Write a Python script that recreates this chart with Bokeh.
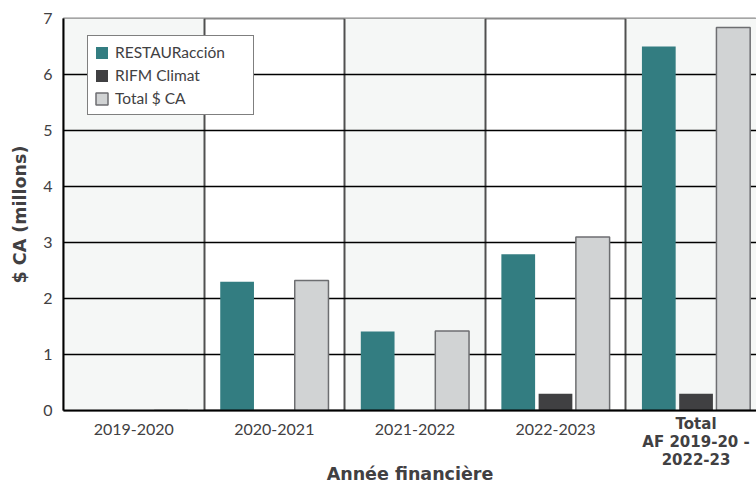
from bokeh.plotting import figure
from bokeh.models import FixedTicker, Range1d, Legend, LegendItem, LinearAxis
from bokeh.embed import file_html
from bokeh.resources import INLINE

categories = ["2019-2020", "2020-2021", "2021-2022", "2022-2023", "Total\nAF 2019-20 -\n2022-23"]
restau = [0, 2.3, 1.41, 2.79, 6.5]
rifm = [0, 0, 0, 0.3, 0.3]
total = [0, 2.32, 1.42, 3.1, 6.84]
series_names = ["RESTAURacción", "RIFM Climat", "Total $ CA"]
y_ticks = [0, 1, 2, 3, 4, 5, 6, 7]

FONT = "Lato"
BOLD_FONT = "DejaVu Sans"
TXT = "#414042"
TEAL = "#337d81"
DARK = "#404042"
GREY = "#d1d3d4"
GREY_LINE = "#6d6e71"
BAND = "#f5f7f6"

n = len(categories)
xs = list(range(n))

p = figure(width=756, height=487, x_range=Range1d(-0.5, 4.43), y_range=Range1d(0, 7),
           output_backend="svg", toolbar_location=None,
           min_border_left=63, min_border_top=18, min_border_right=0, min_border_bottom=77)
p.background_fill_color = "white"
p.border_fill_color = "white"
p.outline_line_color = "#8a8a8a"
p.outline_line_width = 2

# alternating bands
band_idx = [i for i in xs if i % 2 == 0]
bands = p.quad(left=[i - 0.5 for i in band_idx], right=[i + 0.5 for i in band_idx],
               bottom=0, top=7, fill_color=BAND, line_color=None)
bands.level = "image"

# grids
p.ygrid.ticker = FixedTicker(ticks=y_ticks[1:-1])
p.ygrid.grid_line_color = "black"
p.ygrid.grid_line_width = 1.5
p.xgrid.ticker = FixedTicker(ticks=[i + 0.5 for i in xs[:-1]])
p.xgrid.grid_line_color = "#505050"
p.xgrid.grid_line_width = 2

w = 0.24
r1 = p.vbar(x=[x - 0.265 for x in xs], top=restau, width=w, fill_color=TEAL, line_color=None)
r2 = p.vbar(x=[x + 0.0 for x in xs], top=rifm, width=w, fill_color=DARK, line_color=None)
r3 = p.vbar(x=[x + 0.265 for x in xs], top=total, width=w, fill_color=GREY,
            line_color=GREY_LINE, line_width=1.5)

# x axis 1: yearly categories
ax1 = p.xaxis[0]
ax1.ticker = FixedTicker(ticks=xs)
ax1.major_label_overrides = {i: (categories[i] if i < n - 1 else "") for i in xs}
ax1.major_tick_line_color = None
ax1.minor_tick_line_color = None
ax1.axis_line_color = "black"
ax1.axis_line_width = 2
ax1.major_label_text_font = FONT
ax1.major_label_text_font_size = "16px"
ax1.major_label_text_color = TXT
ax1.major_label_standoff = 7

# x axis 2: bold total category + axis title
ax2 = LinearAxis(ticker=FixedTicker(ticks=[xs[-1]]),
                 major_label_overrides={xs[-1]: categories[-1]})
ax2.axis_line_color = None
ax2.major_tick_line_color = None
ax2.minor_tick_line_color = None
ax2.major_label_text_font = BOLD_FONT
ax2.major_label_text_font_size = "15px"
ax2.major_label_text_font_style = "bold"
ax2.major_label_text_color = TXT
ax2.major_label_text_line_height = 1.0
ax2.major_label_standoff = -29
ax2.axis_label = "Année financière"
ax2.axis_label_text_font = BOLD_FONT
ax2.axis_label_text_font_size = "17.5px"
ax2.axis_label_text_font_style = "bold"
ax2.axis_label_text_color = TXT
ax2.axis_label_text_line_height = 0.8
ax2.axis_label_standoff = -8
p.add_layout(ax2, "below")

p.yaxis.ticker = FixedTicker(ticks=y_ticks)
p.yaxis.major_tick_line_color = None
p.yaxis.minor_tick_line_color = None
p.yaxis.axis_line_color = "black"
p.yaxis.axis_line_width = 2
p.yaxis.major_label_text_font = FONT
p.yaxis.major_label_text_font_size = "16px"
p.yaxis.major_label_text_color = TXT
p.yaxis.major_label_standoff = 5
p.yaxis.axis_label = "$ CA (millons)"
p.yaxis.axis_label_text_font = BOLD_FONT
p.yaxis.axis_label_text_font_size = "17.5px"
p.yaxis.axis_label_text_font_style = "bold"
p.yaxis.axis_label_text_color = TXT
p.yaxis.axis_label_standoff = 10

legend = Legend(items=[LegendItem(label=series_names[0], renderers=[r1]),
                       LegendItem(label=series_names[1], renderers=[r2]),
                       LegendItem(label=series_names[2], renderers=[r3])],
                location=(24, 295))
legend.margin = 0
legend.padding = 6
legend.spacing = 3
legend.glyph_width = 15
legend.glyph_height = 15
legend.label_height = 20
legend.label_standoff = 6
legend.label_width = 132
legend.label_text_font = FONT
legend.label_text_font_size = "15.5px"
legend.label_text_color = TXT
legend.border_line_color = "black"
legend.border_line_width = 1.2
legend.background_fill_color = "white"
legend.background_fill_alpha = 1
p.add_layout(legend)

open("out.html", "w").write(file_html(p, INLINE))
